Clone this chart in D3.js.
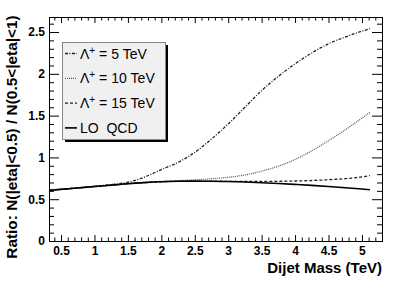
<!DOCTYPE html>
<html>
<head>
<meta charset="utf-8">
<script src="https://cdn.jsdelivr.net/npm/d3@7"></script>
<style>
  body { margin: 0; background: #fff; }
  svg { font-family: "Liberation Sans", Arial, Helvetica, sans-serif; }
</style>
</head>
<body>
<div id="chart"></div>
<script>
// Data
const mass = [0.33, 0.5, 0.75, 1.0, 1.25, 1.5, 1.75, 2.0, 2.25, 2.5, 2.75, 3.0, 3.25, 3.5, 3.75, 4.0, 4.25, 4.5, 4.75, 5.0, 5.12];
const lambda5 = [0.608, 0.618, 0.636, 0.655, 0.675, 0.703, 0.765, 0.855, 0.94, 1.06, 1.22, 1.40, 1.60, 1.80, 1.97, 2.12, 2.25, 2.36, 2.44, 2.51, 2.54];
const lambda10 = [0.608, 0.618, 0.635, 0.652, 0.668, 0.686, 0.702, 0.714, 0.722, 0.732, 0.745, 0.762, 0.79, 0.835, 0.895, 0.975, 1.08, 1.20, 1.33, 1.47, 1.54];
const lambda15 = [0.608, 0.618, 0.635, 0.652, 0.668, 0.685, 0.699, 0.709, 0.715, 0.717, 0.716, 0.714, 0.712, 0.712, 0.714, 0.718, 0.724, 0.733, 0.746, 0.767, 0.783];
const lo_qcd = [0.608, 0.618, 0.635, 0.652, 0.668, 0.685, 0.698, 0.708, 0.714, 0.716, 0.715, 0.711, 0.705, 0.697, 0.688, 0.677, 0.665, 0.652, 0.638, 0.622, 0.614];

// legend labels: [main, superscript, rest]
const seriesNames = [
  ["\u039B", "+", " = 5 TeV"],
  ["\u039B", "+", " = 10 TeV"],
  ["\u039B", "+", " = 15 TeV"],
  ["LO  QCD", "", ""]
];
const xTicks = [0.5, 1, 1.5, 2, 2.5, 3, 3.5, 4, 4.5, 5];
const yTicks = [0, 0.5, 1, 1.5, 2, 2.5];
const xTitle = "Dijet Mass (TeV)";
const yTitle = "Ratio: N(|eta|<0.5) / N(0.5<|eta|<1)";

// Layout
const width = 415, height = 281;
const padL = 49, padR = 382, padT = 17, padB = 241;

const svg = d3.select("#chart").append("svg")
  .attr("width", width)
  .attr("height", height);

const x = d3.scaleLinear().domain([0.32, 5.3]).range([padL, padR]);
const y = d3.scaleLinear().domain([0, 2.68]).range([padB, padT]);

const styles = [
  { dash: "3,1.5,1,1.5", width: 1.3, color: "#222" },
  { dash: "1,1", width: 1.2, color: "#555" },
  { dash: "3,2", width: 1.3, color: "#222" },
  { dash: null, width: 1.6, color: "#000" }
];
const allSeries = [lambda5, lambda10, lambda15, lo_qcd];

// curves
const line = d3.line()
  .x(d => x(d[0]))
  .y(d => y(d[1]))
  .curve(d3.curveMonotoneX);

svg.append("g").selectAll("path")
  .data(allSeries)
  .join("path")
    .attr("fill", "none")
    .attr("stroke", (d, i) => styles[i].color)
    .attr("stroke-width", (d, i) => styles[i].width)
    .attr("stroke-dasharray", (d, i) => styles[i].dash)
    .attr("d", d => line(mass.map((m, j) => [m, d[j]])));

// minor tick values
const xMinor = d3.range(4, 53).map(v => v / 10).filter(v => !xTicks.includes(v));
const yMinor = d3.range(0, 27).map(v => v / 10).filter(v => !yTicks.includes(v));

function cleanAxis(g) {
  g.select(".domain").remove();
  g.selectAll("line").attr("stroke", "#000");
}

// bottom axis with labels
svg.append("g")
  .attr("transform", `translate(0,${padB})`)
  .call(d3.axisBottom(x).tickValues(xTicks).tickSize(-6).tickPadding(5).tickFormat(d3.format("")))
  .call(cleanAxis)
  .call(g => g.selectAll("text")
    .attr("font-size", 12).attr("font-weight", "bold").attr("fill", "#000")
    .attr("font-family", "Liberation Sans, Arial, sans-serif"));
svg.append("g")
  .attr("transform", `translate(0,${padB})`)
  .call(d3.axisBottom(x).tickValues(xMinor).tickSize(-3.5).tickFormat(""))
  .call(cleanAxis);
// top axis
svg.append("g")
  .attr("transform", `translate(0,${padT})`)
  .call(d3.axisTop(x).tickValues(xTicks).tickSize(-6).tickFormat(""))
  .call(cleanAxis);
svg.append("g")
  .attr("transform", `translate(0,${padT})`)
  .call(d3.axisTop(x).tickValues(xMinor).tickSize(-3.5).tickFormat(""))
  .call(cleanAxis);

// left axis with labels
svg.append("g")
  .attr("transform", `translate(${padL},0)`)
  .call(d3.axisLeft(y).tickValues(yTicks).tickSize(-10).tickPadding(4).tickFormat(d3.format("")))
  .call(cleanAxis)
  .call(g => g.selectAll("text")
    .attr("font-size", 12).attr("font-weight", "bold").attr("fill", "#000")
    .attr("font-family", "Liberation Sans, Arial, sans-serif"));
svg.append("g")
  .attr("transform", `translate(${padL},0)`)
  .call(d3.axisLeft(y).tickValues(yMinor).tickSize(-5).tickFormat(""))
  .call(cleanAxis);
// right axis
svg.append("g")
  .attr("transform", `translate(${padR},0)`)
  .call(d3.axisRight(y).tickValues(yTicks).tickSize(-10).tickFormat(""))
  .call(cleanAxis);
svg.append("g")
  .attr("transform", `translate(${padR},0)`)
  .call(d3.axisRight(y).tickValues(yMinor).tickSize(-5).tickFormat(""))
  .call(cleanAxis);

// frame
svg.append("rect")
  .attr("x", padL + 0.5).attr("y", padT + 0.5)
  .attr("width", padR - padL).attr("height", padB - padT)
  .attr("fill", "none").attr("stroke", "#000").attr("stroke-width", 1);

// axis titles
svg.append("text")
  .attr("x", padR).attr("y", 273)
  .attr("text-anchor", "end")
  .attr("font-size", 15).attr("font-weight", "bold")
  .text(xTitle);

svg.append("text")
  .attr("transform", `translate(16.5,137) rotate(-90)`)
  .attr("text-anchor", "middle")
  .attr("font-size", 15.4).attr("font-weight", "bold")
  .text(yTitle);

// legend
const lg = { x: 62, y: 42, w: 103, h: 97 };
const legend = svg.append("g");
legend.append("rect")
  .attr("x", lg.x + 3).attr("y", lg.y + 3)
  .attr("width", lg.w).attr("height", lg.h)
  .attr("fill", "#000");
legend.append("rect")
  .attr("x", lg.x + 0.5).attr("y", lg.y + 0.5)
  .attr("width", lg.w).attr("height", lg.h)
  .attr("fill", "#f0f0f0").attr("stroke", "#888").attr("stroke-width", 1);

const rows = legend.selectAll("g.row")
  .data(seriesNames)
  .join("g")
    .attr("class", "row")
    .attr("transform", (d, i) => `translate(${lg.x + 3},${lg.y + 11.5 + i * 24.8})`);

rows.append("line")
  .attr("x1", 0).attr("x2", 12)
  .attr("stroke", (d, i) => styles[i].color)
  .attr("stroke-width", (d, i) => styles[i].width)
  .attr("stroke-dasharray", (d, i) => styles[i].dash);

const labels = rows.append("text")
  .attr("x", 15).attr("y", 5)
  .attr("font-size", 14)
  .style("white-space", "pre");
labels.append("tspan").text(d => d[0]);
labels.append("tspan")
  .attr("font-size", 10)
  .attr("dy", -5)
  .text(d => d[1]);
labels.append("tspan")
  .attr("dy", 5)
  .text(d => d[2]);
</script>
</body>
</html>
